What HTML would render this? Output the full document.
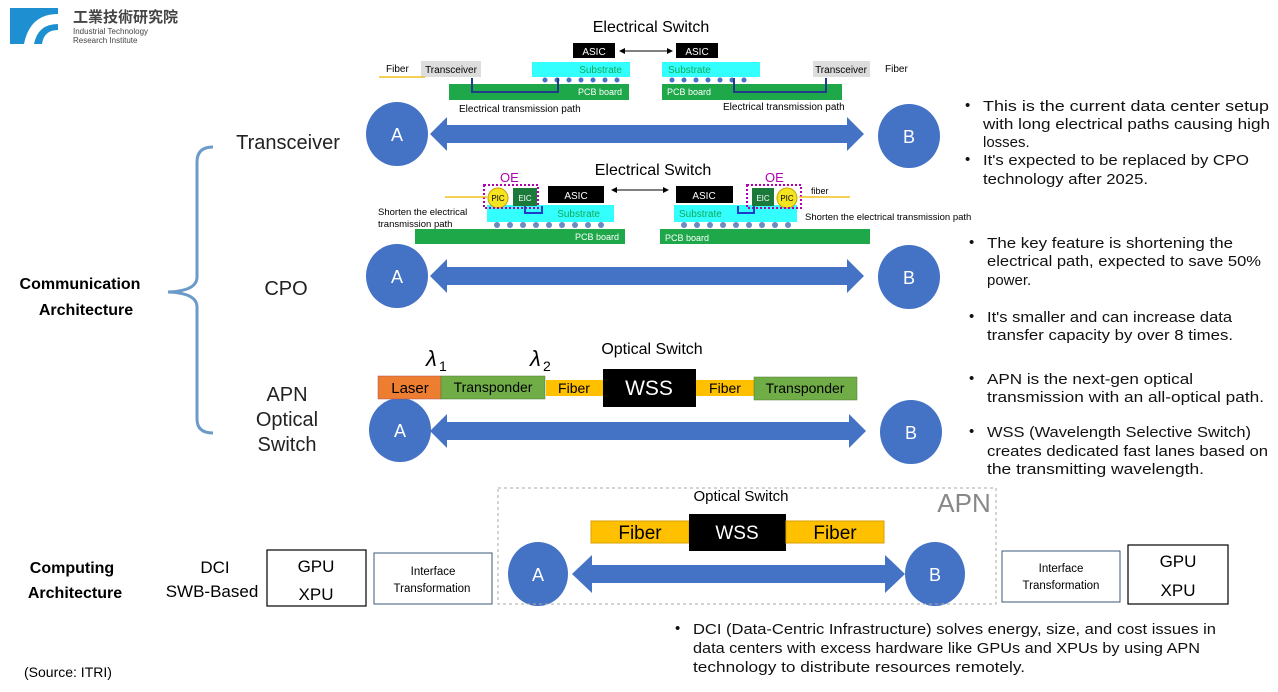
<!DOCTYPE html>
<html><head><meta charset="utf-8"><style>
html,body{margin:0;padding:0;background:#fff;width:1278px;height:692px;overflow:hidden}
svg{display:block}
text{font-family:"Liberation Sans","Noto Sans CJK TC",sans-serif}
</style></head><body>
<svg width="1278" height="692" viewBox="0 0 1278 692" xmlns="http://www.w3.org/2000/svg">
<!-- logo -->
<rect x="10" y="8" width="48" height="36" fill="#1E8FD0"/>
<path d="M58 14 Q30 14 24 44 L34 44 Q38 24 58 24 Z" fill="#fff"/>
<path d="M58 30 Q44 30 42 44 L58 44 Z" fill="#fff"/>
<text x="73" y="22" font-size="15" font-weight="bold" fill="#444" font-family="Noto Sans CJK TC,sans-serif">工業技術研究院</text>
<text x="73" y="34" font-size="8" fill="#444">Industrial Technology</text>
<text x="73" y="43" font-size="8" fill="#444">Research Institute</text>

<!-- brace -->
<path d="M213 147 Q197 147 197 162 L197 277 Q197 291 168 292 Q197 293 197 307 L197 419 Q197 433 213 433" fill="none" stroke="#6C9BC9" stroke-width="3"/>
<text x="80" y="289" font-size="16" font-weight="bold" text-anchor="middle">Communication</text>
<text x="86" y="315" font-size="16" font-weight="bold" text-anchor="middle">Architecture</text>
<text x="288" y="149" font-size="20" text-anchor="middle" fill="#222">Transceiver</text>
<text x="286" y="295" font-size="20" text-anchor="middle" fill="#222">CPO</text>
<text x="287" y="401" font-size="20" text-anchor="middle" fill="#222">APN</text>
<text x="287" y="426" font-size="20" text-anchor="middle" fill="#222">Optical</text>
<text x="287" y="451" font-size="20" text-anchor="middle" fill="#222">Switch</text>

<!-- Row1 electrical switch -->
<text x="651" y="32" font-size="16" text-anchor="middle">Electrical Switch</text>
<rect x="573" y="43" width="42" height="15" fill="#000"/><text x="594" y="55" font-size="10" fill="#fff" text-anchor="middle">ASIC</text>
<rect x="676" y="43" width="42" height="15" fill="#000"/><text x="697" y="55" font-size="10" fill="#fff" text-anchor="middle">ASIC</text>
<line x1="622" y1="51" x2="670" y2="51" stroke="#000"/><path d="M619 51 L625 48 L625 54Z M673 51 L667 48 L667 54Z"/>
<rect x="532" y="62" width="98" height="15" fill="#3FF"/><text x="622" y="73" font-size="10" fill="#1a5" text-anchor="end">Substrate</text>
<rect x="662" y="62" width="98" height="15" fill="#3FF"/><text x="668" y="73" font-size="10" fill="#1a5">Substrate</text>
<rect x="449" y="84" width="180" height="16" fill="#1FA84A"/><text x="622" y="95" font-size="9" fill="#fff" text-anchor="end">PCB board</text>
<rect x="662" y="84" width="180" height="16" fill="#1FA84A"/><text x="667" y="95" font-size="9" fill="#fff">PCB board</text>
<g fill="#4472C4"><circle cx="545" cy="80" r="2.5"/><circle cx="557" cy="80" r="2.5"/><circle cx="569" cy="80" r="2.5"/><circle cx="581" cy="80" r="2.5"/><circle cx="593" cy="80" r="2.5"/><circle cx="605" cy="80" r="2.5"/><circle cx="617" cy="80" r="2.5"/>
<circle cx="672" cy="80" r="2.5"/><circle cx="684" cy="80" r="2.5"/><circle cx="696" cy="80" r="2.5"/><circle cx="708" cy="80" r="2.5"/><circle cx="720" cy="80" r="2.5"/><circle cx="732" cy="80" r="2.5"/><circle cx="744" cy="80" r="2.5"/></g>
<path d="M472 78 L472 92 L558 92 L558 78 M826 78 L826 92 L734 92 L734 78" fill="none" stroke="#1F3C88" stroke-width="2"/>
<rect x="421" y="61" width="60" height="16" fill="#ddd"/><text x="451" y="73" font-size="10" text-anchor="middle">Transceiver</text>
<rect x="813" y="61" width="57" height="16" fill="#ddd"/><text x="841" y="73" font-size="10" text-anchor="middle">Transceiver</text>
<text x="386" y="72" font-size="10">Fiber</text><line x1="379" y1="77" x2="425" y2="77" stroke="#F0C020" stroke-width="1.5"/>
<text x="885" y="72" font-size="10">Fiber</text>
<text x="459" y="112" font-size="10">Electrical transmission path</text>
<text x="723" y="110" font-size="10">Electrical transmission path</text>

<!-- Row2 CPO -->
<text x="653" y="175" font-size="16" text-anchor="middle">Electrical Switch</text>
<rect x="548" y="186" width="56" height="17" fill="#000"/><text x="576" y="199" font-size="10" fill="#fff" text-anchor="middle">ASIC</text>
<rect x="676" y="186" width="57" height="17" fill="#000"/><text x="704" y="199" font-size="10" fill="#fff" text-anchor="middle">ASIC</text>
<line x1="614" y1="190" x2="666" y2="190" stroke="#000"/><path d="M611 190 L617 187 L617 193Z M669 190 L663 187 L663 193Z"/>
<rect x="487" y="205" width="127" height="17" fill="#3FF"/><text x="600" y="217" font-size="10" fill="#1a5" text-anchor="end">Substrate</text>
<rect x="674" y="205" width="123" height="17" fill="#3FF"/><text x="679" y="217" font-size="10" fill="#1a5">Substrate</text>
<rect x="415" y="229" width="210" height="15" fill="#1FA84A"/><text x="575" y="240" font-size="9" fill="#fff">PCB board</text>
<rect x="660" y="229" width="210" height="15" fill="#1FA84A"/><text x="665" y="241" font-size="9" fill="#fff">PCB board</text>
<g fill="#6A8CC0"><circle cx="497" cy="225" r="3"/><circle cx="510" cy="225" r="3"/><circle cx="523" cy="225" r="3"/><circle cx="536" cy="225" r="3"/><circle cx="549" cy="225" r="3"/><circle cx="562" cy="225" r="3"/><circle cx="575" cy="225" r="3"/><circle cx="588" cy="225" r="3"/><circle cx="601" cy="225" r="3"/>
<circle cx="684" cy="225" r="3"/><circle cx="697" cy="225" r="3"/><circle cx="710" cy="225" r="3"/><circle cx="723" cy="225" r="3"/><circle cx="736" cy="225" r="3"/><circle cx="749" cy="225" r="3"/><circle cx="762" cy="225" r="3"/><circle cx="775" cy="225" r="3"/><circle cx="788" cy="225" r="3"/></g>
<rect x="513" y="188" width="24" height="18" fill="#1B7A3A"/><text x="525" y="201" font-size="8" fill="#fff" text-anchor="middle">EIC</text>
<circle cx="498" cy="198" r="10" fill="#F5E520" stroke="#C8A000"/><text x="498" y="201" font-size="8" text-anchor="middle">PIC</text>
<rect x="484" y="185" width="54" height="23" fill="none" stroke="#B000B0" stroke-width="2" stroke-dasharray="2,2"/>
<text x="500" y="182" font-size="13" fill="#B000B0">OE</text>
<line x1="445" y1="197" x2="487" y2="197" stroke="#F0C020" stroke-width="1.5"/>
<rect x="752" y="188" width="22" height="18" fill="#1B7A3A"/><text x="763" y="201" font-size="8" fill="#fff" text-anchor="middle">EIC</text>
<circle cx="787" cy="198" r="10" fill="#F5E520" stroke="#C8A000"/><text x="787" y="201" font-size="8" text-anchor="middle">PIC</text>
<rect x="747" y="185" width="54" height="23" fill="none" stroke="#B000B0" stroke-width="2" stroke-dasharray="2,2"/>
<text x="765" y="182" font-size="13" fill="#B000B0">OE</text>
<line x1="799" y1="197" x2="850" y2="197" stroke="#F0C020" stroke-width="1.5"/>
<text x="811" y="194" font-size="9">fiber</text>
<path d="M525 206 L525 213 L542 213 L542 206 M754 206 L754 213 L738 213 L738 206" fill="none" stroke="#1F3CC8" stroke-width="2"/>
<text x="378" y="215" font-size="9.5">Shorten the electrical</text>
<text x="378" y="227" font-size="9.5">transmission path</text>
<text x="805" y="220" font-size="9.5">Shorten the electrical transmission path</text>

<!-- big arrows -->
<g fill="#4472C4">
<path d="M430 134 L447 117 L447 125 L847 125 L847 117 L864 134 L847 151 L847 143 L447 143 L447 151Z"/>
<ellipse cx="397" cy="134" rx="31" ry="32"/><ellipse cx="909" cy="136" rx="31" ry="32"/>
<path d="M430 276 L447 259 L447 267 L847 267 L847 259 L864 276 L847 293 L847 285 L447 285 L447 293Z"/>
<ellipse cx="397" cy="276" rx="31" ry="32"/><ellipse cx="909" cy="277" rx="31" ry="32"/>
<path d="M430 431 L447 414 L447 422 L849 422 L849 414 L866 431 L849 448 L849 440 L447 440 L447 448Z"/>
<ellipse cx="400" cy="430" rx="31" ry="32"/><ellipse cx="911" cy="432" rx="31" ry="32"/>
<path d="M572 574 L592 555 L592 565 L885 565 L885 555 L905 574 L885 593 L885 583 L592 583 L592 593Z"/>
<ellipse cx="538" cy="574" rx="30" ry="32"/><ellipse cx="935" cy="574" rx="30" ry="32"/>
</g>
<g fill="#fff" font-size="18" text-anchor="middle">
<text x="397" y="141">A</text><text x="909" y="143">B</text>
<text x="397" y="283">A</text><text x="909" y="284">B</text>
<text x="400" y="437">A</text><text x="911" y="439">B</text>
<text x="538" y="581">A</text><text x="935" y="581">B</text>
</g>

<!-- Row3 APN -->
<text x="652" y="354" font-size="16" text-anchor="middle">Optical Switch</text>
<text x="426" y="366" font-size="22" font-style="italic" font-family="Liberation Serif,serif">λ</text><text x="439" y="371" font-size="14" font-family="Liberation Serif,serif">1</text>
<text x="530" y="366" font-size="22" font-style="italic" font-family="Liberation Serif,serif">λ</text><text x="543" y="371" font-size="14" font-family="Liberation Serif,serif">2</text>
<rect x="378" y="376" width="63" height="23" fill="#ED7D31" stroke="#a55" stroke-width="0.5"/><text x="410" y="393" font-size="15" text-anchor="middle">Laser</text>
<rect x="441" y="376" width="104" height="23" fill="#70AD47" stroke="#4a7a30" stroke-width="0.5"/><text x="493" y="392" font-size="14" text-anchor="middle">Transponder</text>
<rect x="546" y="380" width="57" height="16" fill="#FFC000"/><text x="574" y="393" font-size="14" text-anchor="middle">Fiber</text>
<rect x="603" y="369" width="93" height="38" fill="#000"/><text x="649" y="395" font-size="21" fill="#fff" text-anchor="middle">WSS</text>
<rect x="696" y="380" width="58" height="16" fill="#FFC000"/><text x="725" y="393" font-size="14" text-anchor="middle">Fiber</text>
<rect x="754" y="377" width="103" height="23" fill="#70AD47" stroke="#4a7a30" stroke-width="0.5"/><text x="805" y="393" font-size="14" text-anchor="middle">Transponder</text>

<!-- Row4 -->
<rect x="498" y="488" width="498" height="116" fill="none" stroke="#aaa" stroke-dasharray="3,3"/>
<text x="964" y="512" font-size="26" fill="#888" text-anchor="middle">APN</text>
<text x="741" y="501" font-size="15" text-anchor="middle">Optical Switch</text>
<rect x="591" y="521" width="98" height="22" fill="#FFC000" stroke="#d9a000"/><text x="640" y="539" font-size="19" text-anchor="middle">Fiber</text>
<rect x="689" y="514" width="97" height="37" fill="#000"/><text x="737" y="539" font-size="19" fill="#fff" text-anchor="middle">WSS</text>
<rect x="786" y="521" width="98" height="22" fill="#FFC000" stroke="#d9a000"/><text x="835" y="539" font-size="19" text-anchor="middle">Fiber</text>
<text x="72" y="573" font-size="16" font-weight="bold" text-anchor="middle">Computing</text>
<text x="75" y="598" font-size="16" font-weight="bold" text-anchor="middle">Architecture</text>
<text x="215" y="573" font-size="17" text-anchor="middle">DCI</text>
<text x="212" y="597" font-size="17" text-anchor="middle">SWB-Based</text>
<rect x="267" y="550" width="99" height="56" fill="#fff" stroke="#000" stroke-width="1.2"/>
<text x="316" y="572" font-size="17" text-anchor="middle">GPU</text><text x="316" y="600" font-size="17" text-anchor="middle">XPU</text>
<rect x="374" y="553" width="118" height="51" fill="#fff" stroke="#3A5A7A"/>
<text x="433" y="575" font-size="11.5" text-anchor="middle">Interface</text><text x="432" y="592" font-size="11.5" text-anchor="middle">Transformation</text>
<rect x="1002" y="551" width="118" height="51" fill="#fff" stroke="#3A5A7A"/>
<text x="1061" y="572" font-size="11.5" text-anchor="middle">Interface</text><text x="1061" y="589" font-size="11.5" text-anchor="middle">Transformation</text>
<rect x="1128" y="545" width="100" height="59" fill="#fff" stroke="#000" stroke-width="1.2"/>
<text x="1178" y="567" font-size="17" text-anchor="middle">GPU</text><text x="1178" y="596" font-size="17" text-anchor="middle">XPU</text>
<text x="24" y="677" font-size="14">(Source: ITRI)</text>

<g font-size="15" fill="#111">
<text x="965" y="110">•</text>
<text x="983" y="111" textLength="286" lengthAdjust="spacingAndGlyphs">This is the current data center setup</text>
<text x="983" y="129" textLength="287" lengthAdjust="spacingAndGlyphs">with long electrical paths causing high</text>
<text x="983" y="147">losses.</text>
<text x="965" y="164">•</text>
<text x="983" y="165" textLength="266" lengthAdjust="spacingAndGlyphs">It's expected to be replaced by CPO</text>
<text x="983" y="184" textLength="165" lengthAdjust="spacingAndGlyphs">technology after 2025.</text>
<text x="969" y="247">•</text>
<text x="987" y="248" textLength="246" lengthAdjust="spacingAndGlyphs">The key feature is shortening the</text>
<text x="987" y="266" textLength="274" lengthAdjust="spacingAndGlyphs">electrical path, expected to save 50%</text>
<text x="987" y="285">power.</text>
<text x="969" y="321">•</text>
<text x="987" y="322" textLength="245" lengthAdjust="spacingAndGlyphs">It's smaller and can increase data</text>
<text x="987" y="340" textLength="246" lengthAdjust="spacingAndGlyphs">transfer capacity by over 8 times.</text>
<text x="969" y="383">•</text>
<text x="987" y="384" textLength="206" lengthAdjust="spacingAndGlyphs">APN is the next-gen optical</text>
<text x="987" y="402" textLength="277" lengthAdjust="spacingAndGlyphs">transmission with an all-optical path.</text>
<text x="969" y="436">•</text>
<text x="987" y="437" textLength="264" lengthAdjust="spacingAndGlyphs">WSS (Wavelength Selective Switch)</text>
<text x="987" y="456" textLength="281" lengthAdjust="spacingAndGlyphs">creates dedicated fast lanes based on</text>
<text x="987" y="474" textLength="217" lengthAdjust="spacingAndGlyphs">the transmitting wavelength.</text>
<text x="675" y="633">•</text>
<text x="693" y="634" textLength="523" lengthAdjust="spacingAndGlyphs">DCI (Data-Centric Infrastructure) solves energy, size, and cost issues in</text>
<text x="693" y="653" textLength="507" lengthAdjust="spacingAndGlyphs">data centers with excess hardware like GPUs and XPUs by using APN</text>
<text x="693" y="672" textLength="332" lengthAdjust="spacingAndGlyphs">technology to distribute resources remotely.</text>
</g>
</svg>
</body></html>
